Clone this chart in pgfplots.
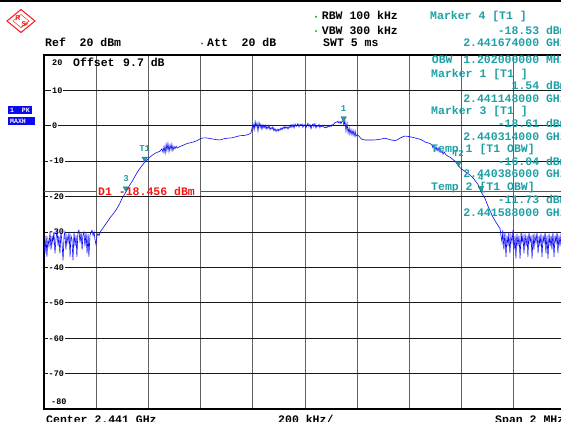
\documentclass[border=0pt]{standalone}
\usepackage{fontspec}
\usepackage{pgfplots}
\pgfplotsset{compat=1.18}
\setmainfont{Liberation Mono}
\newfontfamily\mono{Liberation Mono}
\newfontfamily\sans{Liberation Sans}
\definecolor{rsteal}{RGB}{30,160,165}
\definecolor{rsblue}{RGB}{10,10,245}
\definecolor{rsred}{RGB}{250,20,20}
\definecolor{rsgreen}{RGB}{0,190,0}

\tikzset{
  hd/.style={font=\mono\bfseries\fontsize{11.5}{12}\selectfont, inner sep=0pt},
  mk/.style={hd, text=rsteal},
  lbl/.style={anchor=west, fill=white, inner sep=1pt, font=\mono\bfseries\fontsize{8.5}{9}\selectfont},
}

\begin{document}
\begin{tikzpicture}[x=1pt,y=1pt]
\fill[black] (0,419.2) rectangle (561,421);

% R&S logo
\draw[rsred, line width=1pt] (7,400) -- (21,411.5) -- (35,400) -- (21,388.5) -- cycle;
\draw[rsred, line width=0.4pt] (13,400) -- (21,406.5) -- (29,400) -- (21,393.5) -- cycle;
\foreach \d in {0,2.5,5} \draw[rsred, line width=0.4pt] (21+\d,393.5+\d*0.8) -- (29-\d*0.3,400-\d*0.9);
\node[text=rsred, font=\sans\bfseries\fontsize{7}{7}\selectfont, inner sep=0pt] at (18,402.5) {R};
\node[text=rsred, font=\sans\bfseries\fontsize{7}{7}\selectfont, inner sep=0pt] at (24,396.5) {S};

% header
\node[hd, anchor=base west] at (45,374.4) {Ref\ \ 20 dBm};
\fill[rsgreen] (202,377.5) circle (1.1);
\node[hd, anchor=base west] at (207,374.4) {Att\ \ 20 dB};
\fill[rsgreen] (316,404.2) circle (1.1);
\node[hd, anchor=base west] at (321.7,401) {RBW 100 kHz};
\fill[rsgreen] (316,389.9) circle (1.1);
\node[hd, anchor=base west] at (321.7,386.7) {VBW 300 kHz};
\node[hd, anchor=base west] at (323,374.4) {SWT 5 ms};
\node[mk, anchor=base west] at (430,401) {Marker 4 [T1 ]};
\node[mk, anchor=base east] at (567,386.7) {-18.53 dBm};
\node[mk, anchor=base east] at (567,374.4) {2.441674000 GHz};

% trace mode boxes
\fill[rsblue] (8.3,307) rectangle (32.3,315.3);
\node[anchor=base west, text=white, font=\mono\bfseries\fontsize{6.5}{7}\selectfont, inner sep=0pt] at (10,308.8) {1\ \ PK};
\fill[rsblue] (8.3,296) rectangle (35,304.3);
\node[anchor=base west, text=white, font=\mono\bfseries\fontsize{6.5}{7}\selectfont, inner sep=0pt] at (10,297.8) {MAXH};

\begin{axis}[
  at={(44pt,12pt)}, anchor=south west,
  scale only axis, width=522pt, height=354pt,
  set layers,
  xmin=-1000, xmax=1000, ymin=-80, ymax=20,
  xtick={-800,-600,...,800}, ytick={-70,-60,...,10},
  xticklabels={}, yticklabels={},
  major tick length=0pt,
  xmajorgrids, ymajorgrids,
  x grid style={black!62, line width=0.9pt},
  y grid style={black!90, line width=0.8pt},
  axis line style={black, line width=1.7pt},
]
\begin{pgfonlayer}{axis tick labels}
\node[lbl, xshift=7pt, yshift=-7.7pt] at (axis cs:-1000,20) {20};
\node[lbl, xshift=7pt] at (axis cs:-1000,10) {10};
\node[lbl, xshift=7pt] at (axis cs:-1000,0) {0};
\node[lbl, xshift=3.5pt] at (axis cs:-1000,-10) {-10};
\node[lbl, xshift=3.5pt] at (axis cs:-1000,-20) {-20};
\node[lbl, xshift=3.5pt] at (axis cs:-1000,-30) {-30};
\node[lbl, xshift=3.5pt] at (axis cs:-1000,-40) {-40};
\node[lbl, xshift=3.5pt] at (axis cs:-1000,-50) {-50};
\node[lbl, xshift=3.5pt] at (axis cs:-1000,-60) {-60};
\node[lbl, xshift=3.5pt] at (axis cs:-1000,-70) {-70};
\node[lbl, xshift=6pt, yshift=7.7pt] at (axis cs:-1000,-80) {-80};
\end{pgfonlayer}

% display line D1
\addplot[rsred, line width=0.9pt] coordinates {(-1000,-18.456) (-797,-18.456)};
\addplot[rsred, line width=0.9pt] coordinates {(-400,-18.456) (1000,-18.456)};

% trace 1 (max hold), x = offset from 2.441 GHz in kHz
\addplot[rsblue, line width=0.6pt] coordinates {
(-1000,-33) (-996,-36) (-992,-31) (-989,-37) (-985,-32) (-981,-34) (-977,-30) (-973,-35)
(-969,-31) (-966,-33) (-962,-30) (-958,-36) (-954,-32) (-950,-29.5) (-946,-34) (-943,-31)
(-939,-36) (-935,-30) (-931,-33) (-927,-38) (-923,-31) (-920,-30) (-916,-35) (-912,-31)
(-908,-33) (-904,-30) (-900,-37) (-897,-31) (-893,-32) (-889,-38) (-885,-30) (-881,-34)
(-877,-31) (-874,-37) (-870,-30) (-866,-29.5) (-862,-33) (-858,-30) (-854,-35) (-851,-31)
(-847,-30) (-843,-34) (-839,-30) (-835,-36) (-831,-30.5) (-828,-37) (-824,-31) (-820,-30)
(-816,-29.5) (-812,-31) (-808,-30) (-805,-32) (-801,-33.5) (-797,-31) (-793,-30.5) (-789,-31)
(-785,-30) (-775,-29) (-766,-28) (-756,-27) (-747,-26) (-733,-24.7) (-720,-23.3) (-710,-22)
(-701,-20.5) (-690,-19.2) (-682,-18.2) (-672,-16.8) (-663,-15.8) (-651,-14.2) (-640,-12.8)
(-628,-11.6) (-617,-10.5) (-609,-10) (-594,-8.8) (-583,-8.2) (-575,-7.8) (-563,-7.4) (-556,-7.2)
(-548,-6.5) (-544,-7.5) (-540,-5.8) (-536,-7.8) (-532,-5.2) (-529,-7) (-525,-5) (-521,-7.3)
(-517,-5.4) (-513,-6.8) (-510,-5.2) (-506,-7) (-502,-5.8) (-498,-6.5) (-494,-5.8) (-490,-6.3)
(-483,-6) (-471,-5.6) (-460,-5.3) (-452,-5) (-440,-4.8) (-429,-4.6) (-414,-4.2) (-402,-3.7)
(-390,-3.4) (-383,-3.4) (-370,-3.5) (-356,-3.7) (-340,-3.9) (-326,-4) (-307,-3.6) (-295,-3.5)
(-280,-3.4) (-265,-3.1) (-249,-2.8) (-230,-2.7) (-215,-2.4) (-207,-2) (-203,-0.6)
(-199,0.5) (-195,-1.2) (-191,1.2) (-188,-0.3) (-184,0.8) (-180,-1.5) (-176,0.9) (-172,-0.5)
(-169,0.4) (-165,-1) (-161,0.3) (-157,-0.6) (-153,0.2) (-149,-0.9) (-146,-0.2) (-142,-0.8)
(-138,0.1) (-134,-1.1) (-130,-0.5) (-126,-0.9) (-123,-0.3) (-119,-1.4) (-115,-0.8) (-111,-1.6)
(-107,-1) (-103,-1.5) (-100,-0.9) (-96,-1.3) (-92,-0.6) (-88,-1.1) (-84,-0.4) (-80,-0.8)
(-77,-0.2) (-73,-0.7) (-69,-0.3) (-65,-0.9) (-61,-0.2) (-57,-0.5) (-54,0.3) (-50,-0.4)
(-46,0.4) (-42,-0.6) (-38,0.5) (-34,-0.2) (-31,0.2) (-27,0.6) (-23,-0.3) (-19,0.4)
(-15,0.1) (-11,0.5) (-8,-0.4) (-4,0.3) (0,0.2) (4,-0.5) (8,0.3) (11,0.7)
(15,-0.2) (19,0.4) (23,-0.8) (27,0.2) (31,0.5) (34,-0.3) (38,0.6) (42,-0.6)
(46,0.1) (50,-0.2) (54,0.4) (57,-0.5) (61,0.1) (65,-0.3) (69,0.2) (73,-0.4)
(77,-0.6) (80,-0.3) (84,-0.5) (88,-0.1) (92,-0.3) (96,0.1) (100,-0.2) (103,0.3)
(107,0.2) (111,0.6) (115,0.9) (119,1.1) (123,1) (126,1.3) (130,0.8) (134,1.2)
(138,0.6) (142,1.4) (146,1.2) (149,0.2) (153,1.5) (157,-1.5) (161,0.8) (165,-2)
(169,-0.5) (172,-2.4) (176,-1) (180,-2.6) (184,-1.2) (188,-2.9) (192,-1.5) (195,-3)
(199,-2.5) (207,-2.9) (213,-3.5) (218,-3.8) (230,-4) (249,-4) (265,-4) (280,-3.9)
(295,-3.7) (307,-3.5) (320,-3.8) (330,-4) (345,-4.2) (355,-3.9) (364,-3.5) (375,-3.1)
(383,-2.9) (395,-3) (402,-3.1) (415,-3.3) (425,-3.5) (441,-3.8) (452,-4.2) (460,-4.6)
(470,-4.8) (479,-5) (487,-5.4) (490,-6.2) (494,-5.6) (498,-6.8) (502,-5.9) (506,-7)
(510,-6.2) (514,-7.3) (517,-6.5) (521,-7.6) (525,-7) (529,-8) (533,-7.4) (540,-8.2)
(548,-8.6) (556,-8.9) (565,-9.4) (575,-10) (588,-11.2) (594,-11.8) (605,-12.5) (620,-13.3)
(632,-13.9) (645,-14.8) (655,-15.8) (663,-16.6) (674,-18.5) (682,-19.6) (690,-20.6) (700,-22.5)
(709,-24) (720,-25.8) (728,-26.8) (738,-28) (747,-29)
(751,-31) (755,-33) (758,-29.5) (762,-35) (766,-30) (770,-37) (774,-31) (778,-34)
(781,-30) (785,-36) (789,-31) (793,-33) (797,-29.5) (801,-35) (805,-31) (808,-37.5)
(812,-30.5) (816,-34) (820,-31) (824,-37.5) (828,-30) (831,-33) (835,-31) (839,-36)
(843,-30.5) (847,-34) (851,-31) (854,-37) (858,-30) (862,-33) (866,-31) (870,-37.5)
(874,-30.5) (877,-35) (881,-31) (885,-33) (889,-30) (893,-36) (897,-31) (900,-34)
(904,-30.5) (908,-37) (912,-31) (916,-33) (920,-30) (923,-36) (927,-31) (931,-37.5)
(935,-30.5) (939,-34) (943,-31) (946,-35) (950,-30) (954,-37) (958,-31) (962,-33)
(966,-30) (969,-36) (973,-31) (977,-34) (981,-30.5) (985,-37) (989,-31) (992,-33)
(996,-30) (1000,-35)
};

% markers
\addplot[only marks, mark=triangle*, mark size=3.2pt,
  mark options={yshift=3.2pt, rotate=180, fill=rsteal, draw=rsteal!75!black, line width=0.4pt},
  nodes near coords, point meta=explicit symbolic,
  nodes near coords style={anchor=south, yshift=7pt, inner sep=0pt, text=rsteal,
    font=\mono\bfseries\fontsize{9}{9}\selectfont}]
  coordinates {(148,1.2)[1] (-686,-18.61)[3] (674,-18.53)[4] (-614,-10.2)[T1] (588,-11.5)[T2]};
\end{axis}

% marker table inside the diagram
\node[mk, anchor=base west] at (431.7,357) {OBW};
\node[mk, anchor=base east] at (567,357) {1.202000000 MHz};
\node[mk, anchor=base west] at (431,343.7) {Marker 1 [T1 ]};
\node[mk, anchor=base east] at (567,331.7) {1.54 dBm};
\node[mk, anchor=base east] at (567,318.4) {2.441148000 GHz};
\node[mk, anchor=base west] at (431,306) {Marker 3 [T1 ]};
\node[mk, anchor=base east] at (567,293.7) {-18.61 dBm};
\node[mk, anchor=base east] at (567,281) {2.440314000 GHz};
\node[mk, anchor=base west] at (431,268.4) {Temp 1 [T1 OBW]};
\node[mk, anchor=base east] at (567,256) {-16.04 dBm};
\node[mk, anchor=base east] at (567,243.4) {2.440386000 GHz};
\node[mk, anchor=base west] at (431,230.4) {Temp 2 [T1 OBW]};
\node[mk, anchor=base east] at (567,217.7) {-11.73 dBm};
\node[mk, anchor=base east] at (567,204.4) {2.441588000 GHz};

\node[hd, anchor=base west] at (73,354.7) {Offset};
\node[hd, anchor=base west] at (123,354.7) {9.7 dB};
\node[hd, anchor=base west, text=rsred] at (98,225.4) {D1 -18.456 dBm};

% footer
\node[hd, anchor=base west] at (46,-2.7) {Center 2.441 GHz};
\node[hd, anchor=base west] at (278,-2.7) {200 kHz/};
\node[hd, anchor=base west] at (495,-2.7) {Span 2 MHz};

\pgfresetboundingbox
\useasboundingbox (0,0) rectangle (561,421);
\end{tikzpicture}
\end{document}
